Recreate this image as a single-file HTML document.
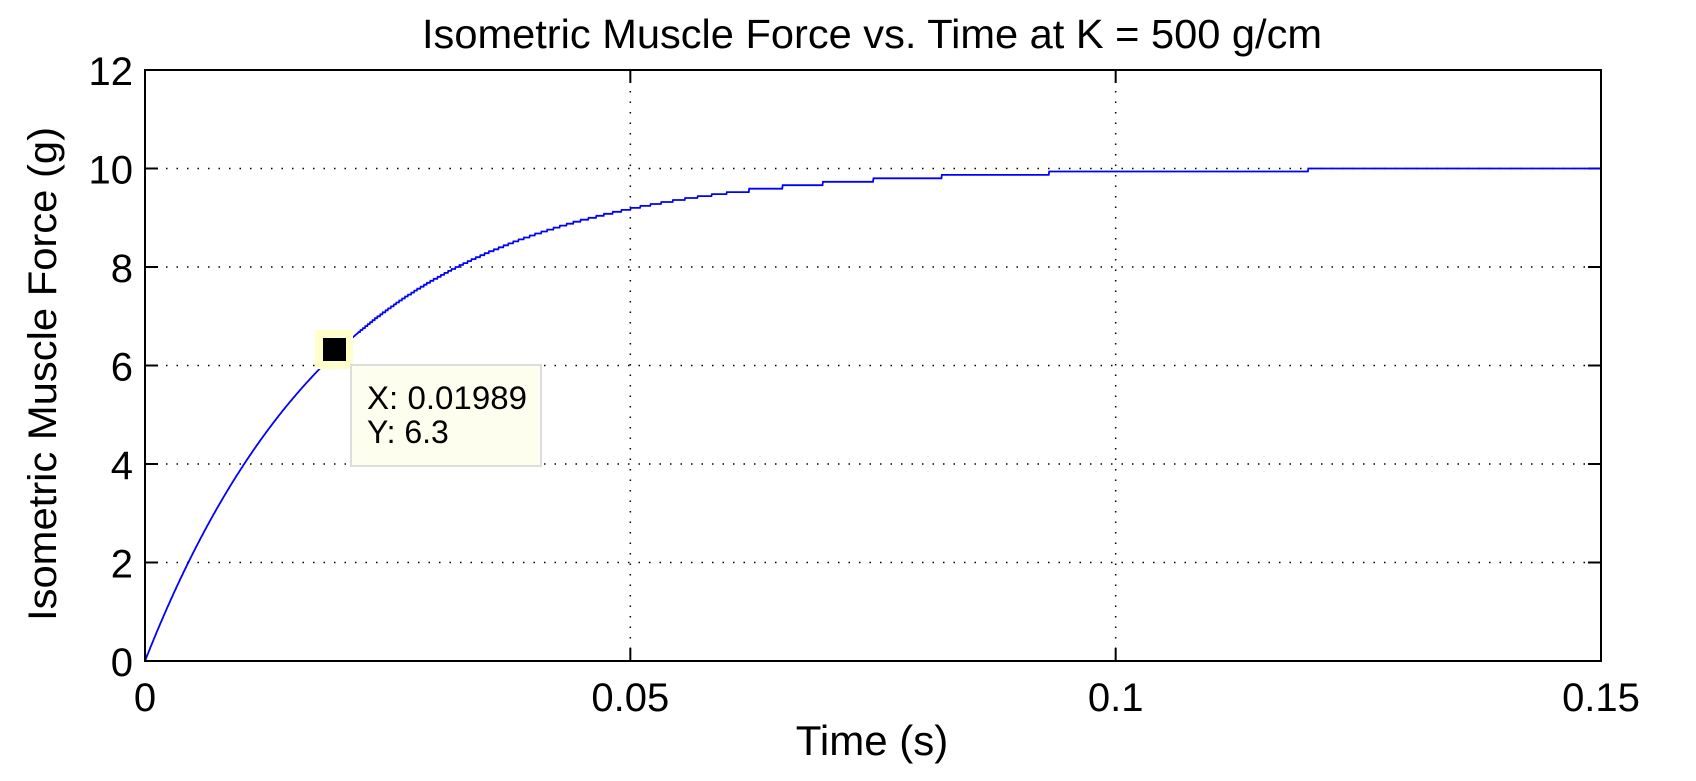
<!DOCTYPE html>
<html><head><style>
body{margin:0;background:#fff;width:1696px;height:781px;overflow:hidden}
svg{display:block}
text{font-family:"Liberation Sans",Helvetica,sans-serif;fill:#000}
</style></head><body>
<svg id="s" width="1696" height="781" viewBox="0 0 1696 781">
<rect width="1696" height="781" fill="#fff"/>
<text x="872" y="48" font-size="41" text-anchor="middle" textLength="900" lengthAdjust="spacingAndGlyphs">Isometric Muscle Force vs. Time at K = 500 g/cm</text>
<g id="grid" stroke="#000" stroke-width="1.5" stroke-dasharray="1.5,9"></g>
<g id="ticks" stroke="#000" stroke-width="2"></g>
<g id="lbl" font-size="40"></g>
<path id="curve" fill="none" stroke="#0000ff" stroke-width="1.8"/>
<rect x="145" y="70" width="1456" height="591" fill="none" stroke="#000" stroke-width="2"/>
<rect x="315" y="330" width="38" height="39" fill="#ffffcc"/>
<rect x="323" y="338" width="23" height="23" fill="#000"/>
<rect x="351" y="365" width="190" height="101" fill="#fefeee" stroke="#ddd" stroke-width="2"/>
<text x="367" y="409" font-size="32" textLength="160" lengthAdjust="spacingAndGlyphs">X: 0.01989</text>
<text x="367" y="443" font-size="32">Y: 6.3</text>
<text x="872" y="755" font-size="42" text-anchor="middle">Time (s)</text>
<text transform="translate(56,374) rotate(-90)" font-size="40" text-anchor="middle" textLength="494" lengthAdjust="spacingAndGlyphs">Isometric Muscle Force (g)</text>
</svg>
<script>
var L=145,R=1601,T=70,B=661,ns="http://www.w3.org/2000/svg";
function X(t){return L+(R-L)*t/0.15}function Y(v){return B-(B-T)*v/12}
var g=document.getElementById('grid'),tk=document.getElementById('ticks'),lb=document.getElementById('lbl');
function el(p,n,a){var e=document.createElementNS(ns,n);for(var k in a)e.setAttribute(k,a[k]);p.appendChild(e);return e}
[0.05,0.1].forEach(function(t){el(g,'line',{x1:X(t),x2:X(t),y1:T,y2:B})});
[2,4,6,8,10].forEach(function(v){el(g,'line',{x1:L,x2:R,y1:Y(v),y2:Y(v)})});
[0,0.05,0.1,0.15].forEach(function(t,i){var x=X(t);el(tk,'line',{x1:x,x2:x,y1:B,y2:B-13});el(tk,'line',{x1:x,x2:x,y1:T,y2:T+13});
var e=el(lb,'text',{x:x,y:711,'text-anchor':'middle'});e.textContent=['0','0.05','0.1','0.15'][i]});
[0,2,4,6,8,10,12].forEach(function(v){var y=Y(v);el(tk,'line',{x1:L,x2:L+13,y1:y,y2:y});el(tk,'line',{x1:R,x2:R-13,y1:y,y2:y});
var e=el(lb,'text',{x:133,y:y+15,'text-anchor':'end'});e.textContent=v});
var d='',pv=-1;for(var i=0;i<=3000;i++){var t=i*0.00005,v=10*(1-Math.exp(-t/0.02));
var q=t<0.022?0:(t<0.06?0.04:0.07);
if(q>0){v=Math.round(v/q)*q;}
if(i==0)v=0.2;d+=(i?'L':'M')+X(t).toFixed(1)+' '+Y(Math.min(v,10)).toFixed(1)}
document.getElementById('curve').setAttribute('d',d);
</script>
</body></html>
